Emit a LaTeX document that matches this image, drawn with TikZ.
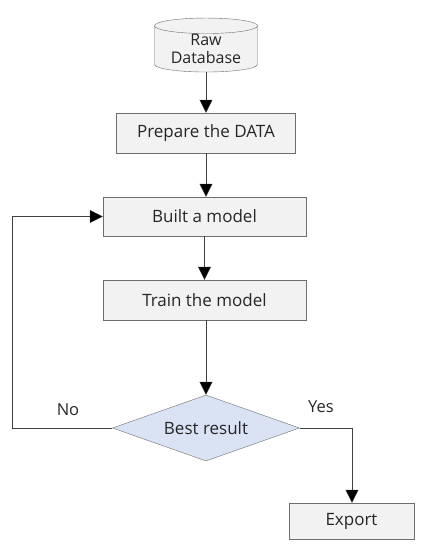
\documentclass[tikz,border=0pt]{standalone}
\usepackage{fontspec}
\setmainfont{Open Sans}
\usetikzlibrary{arrows.meta,shapes.geometric}
\definecolor{boxfill}{RGB}{242,242,242}
\definecolor{boxline}{RGB}{110,110,110}
\definecolor{decfill}{RGB}{218,227,243}
\definecolor{txt}{RGB}{38,38,38}
\tikzset{
  stepbox/.style={draw=boxline,fill=boxfill,minimum height=40pt,inner sep=0pt,text=txt,font=\fontsize{17}{19}\selectfont},
  flow/.style={draw=black!75,-{Triangle[width=13pt,length=13pt,fill=black]}},
  lbl/.style={text=txt,font=\fontsize{16.5}{19}\selectfont},
}
\begin{document}
\begin{tikzpicture}[x=1pt,y=-1pt]
  \useasboundingbox (0,0) rectangle (428,550);
  \node[cylinder,shape border rotate=90,aspect=0.22,draw=boxline,fill=boxfill,
        minimum width=103pt,minimum height=54pt,inner sep=0pt,text=txt,
        align=center,font=\fontsize{16}{18.5}\selectfont] (raw) at (206,49) {Raw\\Database};
  \node[stepbox,minimum width=179pt] (prep) at (206,133) {Prepare the DATA};
  \node[stepbox,minimum width=203pt,minimum height=39pt] (built) at (204.5,216.5) {Built a model};
  \node[stepbox,minimum width=203pt] (train) at (204.5,300) {Train the model};
  \node[diamond,draw=boxline,fill=decfill,aspect=2.83,minimum width=187pt,minimum height=66pt,
        inner sep=0pt,text=txt,font=\fontsize{17}{19}\selectfont] (best) at (206,428) {Best result};
  \node[stepbox,minimum width=125pt,minimum height=36pt] (export) at (351.5,521) {Export};
  \coordinate (noturn) at (12,428);
  \coordinate (yesturn) at (352,428);
  % main column
  \draw[flow] (raw.south) -- (prep.north);
  \draw[flow] (prep.south) -- (prep.south |- built.north);
  \draw[flow] (train.north |- built.south) -- (train.north);
  \draw[flow] (best.north |- train.south) -- (best.north);
  % loop back and exit
  \draw[flow] (best.west) -- (noturn) |- (built.west);
  \draw[flow] (best.east) -- (yesturn) -- (export.north -| yesturn);
  \node[lbl] (no) at (68,410) {No};
  \node[lbl] (yes) at (321,407) {Yes};
\end{tikzpicture}
\end{document}
